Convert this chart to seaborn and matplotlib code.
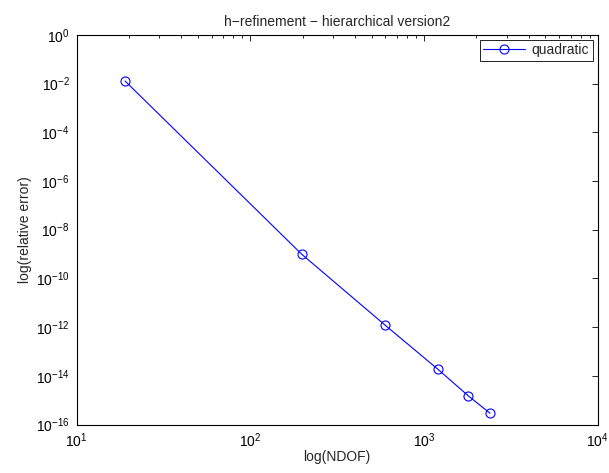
import matplotlib
matplotlib.use("Agg")
import matplotlib.pyplot as plt
from matplotlib.ticker import LogLocator, FixedLocator, NullLocator
import seaborn as sns
import pandas as pd

# Convergence data for the quadratic hierarchical h-refinement
ndof = [19, 198, 600, 1200, 1800, 2400]
rel_error = [1.27e-2, 9.7e-10, 1.17e-12, 1.88e-14, 1.5e-15, 2.9e-16]
series_name = "quadratic"

x_ticks = [1e1, 1e2, 1e3, 1e4]
x_tick_labels = [r"$10^{1}$", r"$10^{2}$", r"$10^{3}$", r"$10^{4}$"]
y_ticks = [1e-16, 1e-14, 1e-12, 1e-10, 1e-8, 1e-6, 1e-4, 1e-2, 1e0]
y_tick_labels = [r"$10^{-16}$", r"$10^{-14}$", r"$10^{-12}$", r"$10^{-10}$",
                 r"$10^{-8}$", r"$10^{-6}$", r"$10^{-4}$", r"$10^{-2}$", r"$10^{0}$"]

sns.set_style("white")
plt.rcParams["font.family"] = ["Liberation Sans", "DejaVu Sans"]
plt.rcParams["mathtext.fontset"] = "custom"
plt.rcParams["mathtext.rm"] = "Liberation Sans"
plt.rcParams["mathtext.it"] = "Liberation Sans"
plt.rcParams["axes.unicode_minus"] = True

FS = 10

df = pd.DataFrame({"NDOF": ndof, "err": rel_error, "series": series_name})

fig = plt.figure(figsize=(6.09, 4.73), dpi=100)
ax = fig.add_axes([0.1258, 0.1025, 0.8556, 0.8239])

sns.lineplot(data=df, x="NDOF", y="err", ax=ax, color="#0000ff", linewidth=0.8,
             marker="o", markersize=6.5, markerfacecolor="none",
             markeredgecolor="#0000ff", markeredgewidth=0.8,
             label=series_name)

ax.set_xscale("log")
ax.set_yscale("log")
ax.set_xlim(1e1, 1e4)
ax.set_ylim(1e-16, 1e0)

ax.xaxis.set_major_locator(FixedLocator(x_ticks))
ax.set_xticklabels(x_tick_labels)
ax.xaxis.set_minor_locator(LogLocator(base=10, subs=range(2, 10)))
ax.yaxis.set_major_locator(FixedLocator(y_ticks))
ax.set_yticklabels(y_tick_labels)
ax.yaxis.set_minor_locator(NullLocator())

ax.tick_params(which="both", direction="in", top=True, right=True,
               labelsize=FS, colors="black")
ax.tick_params(which="major", length=4, width=0.6)
ax.tick_params(which="minor", length=2.5, width=0.6)
ax.tick_params(axis="x", pad=5)
ax.tick_params(axis="y", pad=5)

for s in ax.spines.values():
    s.set_color("black")
    s.set_linewidth(0.8)

ax.set_title("h\u2212refinement \u2212 hierarchical version2", fontsize=FS, pad=6)
ax.set_xlabel("log(NDOF)", fontsize=FS, labelpad=0)
ax.set_ylabel("log(relative error)", fontsize=FS, labelpad=3)

leg = ax.legend(loc="upper right", fontsize=FS, frameon=True, fancybox=False,
                edgecolor="black", borderpad=0.25, handlelength=3.0,
                handletextpad=0.5, borderaxespad=0.35, framealpha=1)
leg.get_frame().set_linewidth(0.6)

fig.savefig("out.png", dpi=100)
